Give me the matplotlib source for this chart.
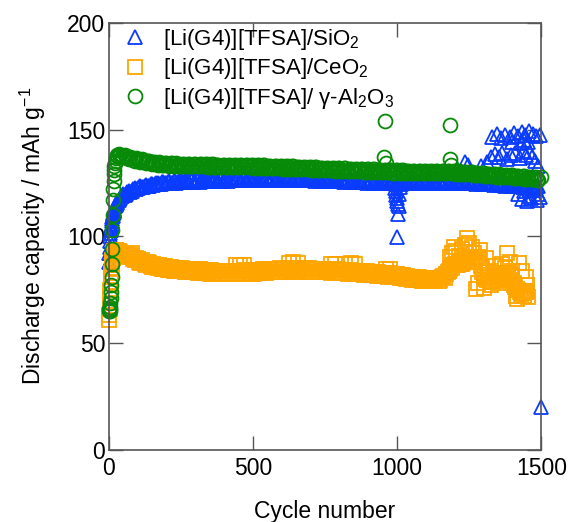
import numpy as np
import matplotlib
matplotlib.use("Agg")
import matplotlib.pyplot as plt

plt.rcParams['font.family'] = ['Liberation Sans', 'DejaVu Sans']
plt.rcParams['mathtext.fontset'] = 'custom'
plt.rcParams['mathtext.rm'] = 'Liberation Sans'
plt.rcParams['mathtext.it'] = 'Liberation Sans:italic'
plt.rcParams['mathtext.default'] = 'regular'

# ---- data ----
labels = ['[Li(G4)][TFSA]/SiO$_2$',
          '[Li(G4)][TFSA]/CeO$_2$',
          '[Li(G4)][TFSA]/ γ-Al$_2$O$_3$']
colors = ['#0A3CFF', '#FFA500', '#078A07']

# first cycles, one by one
early_cycles = [1, 2, 3, 4, 5, 6, 7, 8, 9, 10, 11, 12, 13, 14, 15, 16, 17, 18,
                19, 20, 22, 24, 26, 28, 30, 35]
sio2_early = [88, 92, 95, 98, 100, 101.5, 103, 104, 105, 106, 107, 108, 109,
              109.5, 110.5, 111, 111.5, 112, 112.5, 113, 114, 114.5, 115,
              115.5, 116, 117]
ceo2_early = [61, 63, 66, 69, 72, 75, 78, 81, 83, 85, 86.5, 88, 89, 90, 90.8,
              91.4, 92, 92.4, 92.7, 93, 93.2, 93.4, 93.4, 93.3, 93.2, 93]
al2o3_early = [66, 65, 65, 66, 67, 69, 71, 74, 77, 81, 87, 94, 103, 110, 117,
               122, 126, 129, 131, 133, 134.5, 135.5, 136.5, 137.5, 138, 138.5]

# every 5th cycle from cycle 40 (one line = 50 cycles)
sio2_main = [
    118.0, 118.9, 119.6, 119.5, 120.0, 120.8, 121.3, 120.9, 121.4, 122.1,
    122.5, 122.0, 122.4, 123.0, 123.4, 122.9, 123.2, 123.8, 124.1, 123.5,
    123.8, 124.4, 124.7, 124.0, 124.3, 124.9, 125.1, 124.4, 124.7, 125.3,
    125.5, 124.8, 125.0, 125.6, 125.8, 125.0, 125.2, 125.9, 126.0, 125.1,
    125.4, 126.1, 126.2, 125.3, 125.5, 126.2, 126.3, 125.4, 125.6, 126.3,
    126.4, 125.5, 125.7, 126.4, 126.5, 125.6, 125.8, 126.5, 126.6, 125.7,
    125.9, 126.6, 126.7, 125.8, 126.0, 126.7, 126.8, 125.9, 126.1, 126.8,
    126.9, 126.0, 126.2, 126.9, 127.0, 126.1, 126.3, 127.0, 127.0, 126.2,
    126.4, 127.1, 127.1, 126.2, 126.4, 127.1, 127.1, 126.3, 126.5, 127.2,
    127.2, 126.3, 126.5, 127.2, 127.2, 126.4, 126.6, 127.3, 127.3, 126.4,
    126.6, 127.3, 127.3, 126.4, 126.6, 127.3, 127.3, 126.4, 126.6, 127.3,
    127.3, 126.4, 126.6, 127.3, 127.3, 126.4, 126.6, 127.2, 127.2, 126.3,
    126.5, 127.2, 127.2, 126.3, 126.5, 127.1, 127.1, 126.2, 126.4, 127.1,
    127.1, 126.2, 126.4, 127.0, 127.0, 126.1, 126.3, 127.0, 127.0, 126.0,
    126.2, 126.9, 126.9, 125.9, 126.1, 126.8, 126.8, 125.8, 126.0, 126.7,
    126.7, 125.7, 125.9, 126.6, 126.6, 125.6, 125.8, 126.5, 126.5, 125.5,
    125.7, 126.4, 126.4, 125.4, 125.6, 126.3, 126.3, 125.3, 125.5, 126.2,
    126.2, 125.2, 125.4, 126.1, 126.1, 125.1, 125.3, 126.0, 126.0, 125.0,
    125.2, 125.9, 125.9, 124.9, 125.1, 125.8, 125.8, 124.8, 125.0, 125.7,
    125.7, 124.6, 124.9, 125.5, 125.6, 124.7, 124.9, 125.6, 125.7, 124.8,
    125.0, 125.7, 125.8, 124.9, 125.1, 125.8, 125.9, 125.0, 125.2, 125.9,
    126.0, 125.1, 125.3, 126.0, 126.0, 125.1, 125.3, 126.1, 126.1, 125.2,
    125.4, 126.1, 126.1, 125.2, 125.4, 126.1, 126.1, 125.2, 125.4, 126.0,
    126.0, 125.1, 125.3, 125.9, 125.9, 125.0, 125.2, 125.8, 125.8, 124.9,
    125.1, 125.7, 125.7, 124.8, 125.0, 125.6, 125.6, 124.7, 124.9, 125.5,
    125.5, 124.6, 124.8, 125.4, 125.4, 124.4, 124.6, 125.2, 125.2, 124.2,
    124.4, 125.0, 125.0, 124.0, 124.2, 124.8, 124.8, 123.8, 124.0, 124.6,
    124.6, 123.6, 123.8, 124.4, 124.4, 123.4, 123.6, 124.2, 124.2, 123.2,
    123.4, 124.0, 124.0, 123.0, 123.2, 123.8, 123.8, 122.8, 123.0, 123.6,
    123.6]
ceo2_main = [
    92.8, 92.0, 91.5, 92.3, 91.9, 91.0, 90.2, 91.2, 90.6, 89.6,
    88.9, 89.9, 89.3, 88.2, 87.7, 88.8, 88.2, 87.0, 86.6, 87.8,
    87.3, 86.2, 85.8, 87.1, 86.7, 85.5, 85.1, 86.4, 86.0, 84.9,
    84.6, 86.0, 85.6, 84.4, 84.2, 85.7, 85.3, 84.0, 83.9, 85.4,
    85.0, 83.7, 83.6, 85.1, 84.8, 83.5, 83.4, 84.9, 84.6, 83.3,
    83.2, 84.7, 84.4, 83.1, 83.0, 84.5, 84.2, 82.9, 82.8, 84.3,
    84.0, 82.7, 82.6, 84.1, 83.8, 82.6, 82.5, 84.0, 83.7, 82.5,
    82.4, 83.9, 83.6, 82.4, 82.4, 83.9, 83.6, 82.3, 82.3, 83.9,
    83.6, 82.3, 82.3, 84.0, 83.7, 82.4, 82.4, 84.1, 83.8, 82.5,
    82.5, 84.2, 83.9, 82.6, 82.7, 84.4, 84.1, 82.8, 82.9, 84.6,
    84.3, 83.0, 83.1, 84.8, 84.5, 83.2, 83.3, 84.9, 84.6, 83.3,
    83.4, 85.0, 84.7, 83.4, 83.5, 85.1, 84.8, 83.5, 83.6, 85.2,
    84.9, 83.6, 83.6, 85.2, 84.9, 83.6, 83.5, 85.1, 84.8, 83.5,
    83.4, 85.0, 84.7, 83.4, 83.3, 84.9, 84.6, 83.3, 83.2, 84.8,
    84.5, 83.2, 83.1, 84.7, 84.4, 83.1, 83.0, 84.6, 84.3, 83.0,
    82.9, 84.5, 84.2, 82.9, 82.8, 84.4, 84.1, 82.7, 82.6, 84.2,
    83.9, 82.5, 82.4, 84.0, 83.7, 82.3, 82.2, 83.8, 83.5, 82.1,
    82.0, 83.6, 83.3, 81.9, 81.8, 83.4, 83.1, 81.7, 81.6, 83.2,
    82.9, 81.5, 81.4, 83.0, 82.7, 81.3, 81.2, 82.8, 82.5, 81.1,
    81.0, 82.6, 82.3, 80.8, 80.6, 82.1, 81.7, 80.4, 80.2, 81.6,
    81.2, 80.0, 79.8, 81.2, 80.8, 79.6, 79.5, 80.9, 80.5, 79.3,
    79.2, 80.6, 80.2, 79.1, 79.0, 80.4, 80.1, 79.0, 79.1, 80.6,
    80.4, 79.3, 79.6, 81.2, 81.4, 80.6, 82.2, 83.4, 84.0, 84.6,
    85.2, 86.5, 87.0, 86.4, 86.8, 87.8, 88.2, 87.2, 87.6, 88.8,
    89.0, 87.8, 88.3, 89.4, 89.6, 88.2, 88.8, 89.9, 90.2, 88.5,
    86.0, 83.5, 81.0, 80.0, 79.5, 80.8, 81.2, 78.5, 78.8, 81.0,
    82.0, 79.0, 79.6, 82.2, 82.6, 79.6, 80.2, 82.8, 83.0, 80.5,
    79.8, 81.8, 81.4, 78.0, 76.5, 75.5, 74.8, 73.8, 73.2, 73.4,
    73.6, 74.0, 74.2]
al2o3_main = [
    138.3, 137.5, 137.0, 137.9, 137.6, 136.6, 136.2, 137.3, 136.9, 135.9,
    135.5, 136.6, 136.2, 135.2, 134.9, 136.0, 135.6, 134.6, 134.3, 135.4,
    135.1, 134.2, 133.9, 135.0, 134.7, 133.8, 133.6, 134.7, 134.4, 133.5,
    133.3, 134.4, 134.2, 133.2, 133.1, 134.2, 134.1, 133.1, 133.0, 134.1,
    134.0, 133.0, 132.9, 134.0, 133.9, 132.9, 132.8, 133.9, 133.9, 132.8,
    132.8, 133.9, 133.8, 132.7, 132.7, 133.8, 133.8, 132.7, 132.7, 133.7,
    133.7, 132.6, 132.6, 133.7, 133.7, 132.6, 132.6, 133.6, 133.6, 132.5,
    132.5, 133.6, 133.6, 132.5, 132.5, 133.5, 133.5, 132.4, 132.4, 133.5,
    133.5, 132.4, 132.4, 133.4, 133.4, 132.3, 132.3, 133.4, 133.4, 132.3,
    132.3, 133.3, 133.3, 132.2, 132.2, 133.3, 133.3, 132.1, 132.1, 133.2,
    133.2, 132.0, 132.0, 133.1, 133.1, 131.9, 131.9, 133.0, 133.0, 131.8,
    131.8, 132.9, 132.9, 131.7, 131.7, 132.8, 132.8, 131.6, 131.6, 132.7,
    132.7, 131.5, 131.5, 132.6, 132.6, 131.4, 131.4, 132.5, 132.5, 131.3,
    131.3, 132.4, 132.4, 131.2, 131.2, 132.3, 132.3, 131.1, 131.1, 132.2,
    132.2, 131.0, 131.0, 132.1, 132.1, 130.9, 130.9, 132.0, 132.0, 130.8,
    130.8, 131.9, 131.9, 130.7, 130.7, 131.8, 131.8, 130.6, 130.6, 131.7,
    131.7, 130.5, 130.5, 131.6, 131.6, 130.4, 130.4, 131.5, 131.5, 130.3,
    130.3, 131.4, 131.4, 130.2, 130.2, 131.3, 131.3, 130.1, 130.1, 131.2,
    131.2, 130.0, 130.0, 131.1, 131.1, 129.9, 129.9, 131.0, 131.0, 129.8,
    129.8, 130.9, 130.9, 129.8, 129.8, 130.9, 130.9, 129.7, 129.7, 130.8,
    130.8, 129.7, 129.7, 130.8, 130.8, 129.6, 129.6, 130.7, 130.7, 129.6,
    129.6, 130.7, 130.7, 129.6, 129.6, 130.7, 130.7, 129.6, 129.6, 130.7,
    130.7, 129.7, 129.7, 130.8, 130.8, 129.7, 129.7, 130.8, 130.8, 129.6,
    129.6, 130.6, 130.5, 129.4, 129.4, 130.4, 130.3, 129.2, 129.2, 130.2,
    130.1, 129.0, 129.0, 130.0, 129.9, 128.8, 128.8, 129.8, 129.7, 128.6,
    128.6, 129.6, 129.5, 128.4, 128.4, 129.4, 129.3, 128.2, 128.2, 129.2,
    129.1, 128.0, 128.0, 129.0, 128.9, 127.8, 127.8, 128.8, 128.7, 127.6,
    127.6, 128.6, 128.5, 127.4, 127.4, 128.4, 128.3, 127.2, 127.2, 128.2,
    128.1, 127.0, 127.0, 128.0, 127.9, 126.8, 126.8, 127.8, 127.7, 126.6,
    126.6]

# scattered points off the main band
sio2_extra_cycles = [993, 995, 997, 999, 1001, 1003, 1005, 1002, 1000, 1007, 1009,
                     1330, 1345, 1360, 1375, 1390, 1405, 1420, 1432, 1445, 1458,
                     1470, 1482, 1497, 1400, 1430, 1440, 1455,
                     1235, 1245, 1290, 1310, 1325, 1340, 1355, 1365, 1380, 1395,
                     1410, 1425, 1435, 1447, 1460, 1468, 1478, 1488,
                     1420, 1432, 1440, 1450, 1458, 1465, 1475, 1485, 1490, 1497,
                     1445, 1500]
sio2_extra = [122.5, 121, 119.5, 118, 116.5, 115, 114, 110.5, 99.5, 120, 123,
              146.5, 148, 146, 147.5, 146.5, 148.5, 147, 149, 147.5, 149.5,
              148, 147, 147.5, 144, 143.5, 145, 144,
              135, 133.5, 133, 135, 137, 138.5, 137, 139, 136, 138,
              139, 136.5, 140, 138, 139.5, 137, 135.5, 133,
              120, 117.5, 121, 116.5, 119, 118, 121.5, 117, 120, 118.5,
              123, 20]
ceo2_extra_cycles = [80, 440, 455, 470, 625, 640, 655, 770, 785, 820, 840, 855,
                     960, 975,
                     1182, 1190, 1199, 1205, 1215, 1225, 1235, 1244, 1250, 1258,
                     1265, 1275, 1282, 1286, 1295, 1300, 1309, 1318, 1325, 1335,
                     1345, 1355, 1365, 1375, 1382, 1390, 1398, 1405, 1412, 1417,
                     1424, 1432, 1440, 1448, 1448, 1452, 1455]
ceo2_extra = [92, 86.5, 86.8, 86.5, 87.5, 87.8, 87.5, 87, 87.2, 87, 87.3, 87,
              84.5, 84.8,
              90.5, 92, 95.2, 93, 91, 94, 96, 99.2, 97, 95,
              92, 75.5, 78, 93.6, 86, 76, 89.9, 84, 77, 86,
              83, 78, 87, 85, 92.2, 88, 84, 77, 72, 70.5,
              87.5, 84, 72, 81, 74, 77, 71.5]
al2o3_extra_cycles = [955, 957, 960, 1183, 1185, 1188, 1500]
al2o3_extra = [137, 154, 134.5, 136, 152, 133.5, 128]

main_cycles = list(range(40, 1491, 5))

series = [
    (early_cycles + main_cycles[:len(sio2_main)] + sio2_extra_cycles,
     sio2_early + sio2_main + sio2_extra, '^'),
    (early_cycles + main_cycles[:len(ceo2_main)] + ceo2_extra_cycles,
     ceo2_early + ceo2_main + ceo2_extra, 's'),
    (early_cycles + main_cycles[:len(al2o3_main)] + al2o3_extra_cycles,
     al2o3_early + al2o3_main + al2o3_extra, 'o'),
]

fig = plt.figure(figsize=(5.68, 5.22), dpi=100)
ax = fig.add_axes([108.7 / 568, 1 - 450 / 522, 432.6 / 568, 427.3 / 522])

for (x, y, m), c, lab in zip(series, colors, labels):
    ax.plot(x, y, linestyle='none', marker=m, markersize=10, mfc='none',
            mec=c, mew=1.3, label=lab, clip_on=False)

ax.set_xlim(0, 1500)
ax.set_ylim(0, 200)
ax.set_xticks([0, 500, 1000, 1500])
ax.set_yticks([0, 50, 100, 150, 200])
ax.tick_params(direction='in', length=10, width=1, color='#555555',
               labelsize=16.5, top=True, right=True)
ax.tick_params(axis='y', pad=2.5)
ax.tick_params(axis='x', pad=5)
for s in ax.spines.values():
    s.set_color('#555555')
    s.set_linewidth(1.2)

ax.set_xlabel('Cycle number', fontsize=16.5, va='center')
ax.xaxis.set_label_coords(0.5, -0.144)
ax.set_ylabel('Discharge capacity / mAh g$^{-1}$', fontsize=16.5, va='center')
ax.yaxis.set_label_coords(-0.176, 0.5)

ax.legend(loc='upper left', bbox_to_anchor=(0.035, 0.99), frameon=False,
          fontsize=16, handlelength=1.0, handletextpad=0.76, labelspacing=0.2,
          borderpad=0, borderaxespad=0)

fig.savefig('out.png', dpi=100)
